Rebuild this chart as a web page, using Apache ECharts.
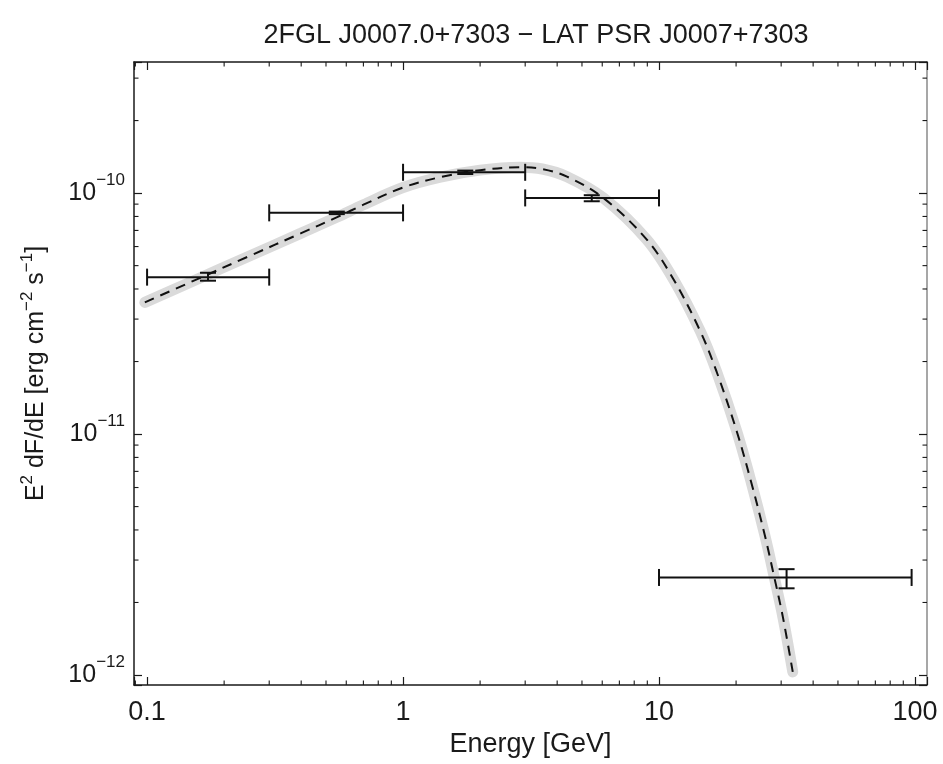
<!DOCTYPE html>
<html>
<head>
<meta charset="utf-8">
<script src="https://cdn.jsdelivr.net/npm/echarts@6/dist/echarts.min.js"></script>
<style>
html,body{margin:0;padding:0;background:#fff;}
#chart{width:943px;height:764px;}
</style>
</head>
<body>
<div id="chart"></div>
<script>
// ---- data ----
const chartTitle = '2FGL J0007.0+7303 \u2212 LAT PSR J0007+7303';

// spectral points (GeV, erg cm^-2 s^-1)
const energyCenter = [0.173, 0.551, 1.75, 5.46, 31.5];
const energyLow    = [0.1, 0.3, 1, 3, 10];
const energyHigh   = [0.3, 1, 3, 10, 97];
const flux         = [4.48e-11, 8.28e-11, 1.22e-10, 9.55e-11, 2.54e-12];
const fluxLow      = [4.33e-11, 8.18e-11, 1.20e-10, 9.25e-11, 2.29e-12];
const fluxHigh     = [4.67e-11, 8.38e-11, 1.24e-10, 9.80e-11, 2.75e-12];

// fitted model curve
const curveEnergy = [0.098, 0.15, 0.25, 0.4, 0.55, 0.7, 1.0, 1.4, 2.0, 2.86, 3.5, 4.37, 6.06, 8.96, 11.4, 14.5, 16.8, 20.1, 23.0, 25.9, 28.1, 30.5, 33.3];
const curveFlux   = [3.52e-11, 4.30e-11, 5.47e-11, 6.82e-11, 7.93e-11, 8.95e-11, 1.055e-10, 1.165e-10, 1.245e-10, 1.28e-10, 1.259e-10, 1.17e-10, 9.55e-11, 6.41e-11, 4.38e-11, 2.67e-11, 1.81e-11, 1.03e-11, 6.22e-12, 3.80e-12, 2.59e-12, 1.73e-12, 1.03e-12];

// axes
const xMin = 0.0889, xMax = 111.4;
const yMin = 9.09e-13, yMax = 3.5e-10;
const xTickLabels = ['0.1', '1', '10', '100'];   // decades 10^-1 .. 10^2
const xMinorTicks = [0.09, 0.2, 0.3, 0.4, 0.5, 0.6, 0.7, 0.8, 0.9, 2, 3, 4, 5, 6, 7, 8, 9, 20, 30, 40, 50, 60, 70, 80, 90];
const yMinorTicks = [2e-12, 3e-12, 4e-12, 5e-12, 6e-12, 7e-12, 8e-12, 9e-12, 2e-11, 3e-11, 4e-11, 5e-11, 6e-11, 7e-11, 8e-11, 9e-11, 2e-10, 3e-10];

// ---- chart ----
const FONT = 'Liberation Sans, Arial, Helvetica, sans-serif';
const INK = '#1a1a1a';

function isDecade(v) {
  const lg = Math.log10(v);
  return Math.abs(lg - Math.round(lg)) < 1e-6;
}
function xLabel(v) {
  if (!isDecade(v)) return '';
  const i = Math.round(Math.log10(v)) + 1;
  return xTickLabels[i] !== undefined ? xTickLabels[i] : '';
}
function yLabel(v) {
  if (!isDecade(v)) return '';
  const e = Math.round(Math.log10(v));
  return '{b|10}{s|\u2212' + Math.abs(e) + '}';
}

const curveData = curveEnergy.map((e, i) => [e, curveFlux[i]]);
const pointData = energyCenter.map((e, i) => [e, flux[i], energyLow[i], energyHigh[i], fluxLow[i], fluxHigh[i]]);

const commonX = {
  type: 'log', logBase: 10, min: xMin, max: xMax,
  splitLine: { show: false },
  axisLine: { show: true, lineStyle: { color: INK, width: 1.5 } },
  axisTick: { show: true, inside: true, length: 8, lineStyle: { color: INK, width: 1.2 } },
};
const commonY = {
  type: 'log', logBase: 10, min: yMin, max: yMax,
  splitLine: { show: false },
  axisLine: { show: true, lineStyle: { color: INK, width: 1.5 } },
  axisTick: { show: true, inside: true, length: 8, lineStyle: { color: INK, width: 1.2 } },
};

const chart = echarts.init(document.getElementById('chart'), null, { renderer: 'canvas' });
chart.setOption({
  backgroundColor: '#fff',
  animation: false,
  title: {
    text: chartTitle,
    left: 531, top: 17, textAlign: 'center',
    textStyle: { fontFamily: FONT, fontSize: 27, fontWeight: 'normal', color: INK }
  },
  grid: { left: 134, right: 16, top: 62, bottom: 79, containLabel: false },
  xAxis: [
    Object.assign({}, commonX, {
      position: 'bottom',
      name: 'Energy [GeV]', nameLocation: 'middle', nameGap: 45,
      nameTextStyle: { fontFamily: FONT, fontSize: 27, color: INK },
      axisLabel: { show: true, margin: 14, formatter: xLabel, showMinLabel: true, showMaxLabel: true,
        fontFamily: FONT, fontSize: 27, color: INK }
    }),
    Object.assign({}, commonX, {
      position: 'top',
      axisLabel: { show: false }
    })
  ],
  yAxis: [
    Object.assign({}, commonY, {
      position: 'left',
      name: '{n|E}{s|2}{n| dF/dE [erg cm}{s|\u22122}{n| s}{s|\u22121}{n|]}',
      nameLocation: 'middle', nameGap: 80, nameRotate: 90,
      nameTextStyle: {
        rich: {
          n: { fontFamily: FONT, fontSize: 25, color: INK },
          s: { fontFamily: FONT, fontSize: 17, color: INK, padding: [0, 0, 18, 0] }
        }
      },
      axisLabel: {
        show: true, margin: 9, formatter: yLabel, showMinLabel: true, showMaxLabel: true,
        rich: {
          b: { fontFamily: FONT, fontSize: 25, color: INK },
          s: { fontFamily: FONT, fontSize: 17, color: INK, padding: [0, 0, 26, 0] }
        }
      }
    }),
    Object.assign({}, commonY, {
      position: 'right',
      axisLine: { show: true, lineStyle: { color: '#8a8a8a', width: 1.5 } },
      axisLabel: { show: false }
    })
  ],
  series: [
    {
      name: 'band', type: 'line', data: curveData, smooth: 0.35,
      showSymbol: false, symbol: 'none', z: 1, silent: true,
      lineStyle: { color: '#dadada', width: 11, cap: 'round' }
    },
    {
      name: 'model', type: 'line', data: curveData, smooth: 0.35,
      showSymbol: false, symbol: 'none', z: 2, silent: true,
      lineStyle: { color: '#111', width: 2, type: [10, 7] }
    },
    {
      name: 'points', type: 'custom', z: 3, silent: true,
      data: pointData,
      encode: { x: 0, y: 1 },
      renderItem: function (params, api) {
        const xc = api.value(0), yc = api.value(1);
        const pL = api.coord([api.value(2), yc]);
        const pH = api.coord([api.value(3), yc]);
        const pYL = api.coord([xc, api.value(4)]);
        const pYH = api.coord([xc, api.value(5)]);
        const st = { stroke: '#111', lineWidth: 2 };
        const capH = 8.5, capW = 8;
        return {
          type: 'group',
          children: [
            { type: 'line', shape: { x1: pL[0], y1: pL[1], x2: pH[0], y2: pH[1] }, style: st },
            { type: 'line', shape: { x1: pL[0], y1: pL[1] - capH, x2: pL[0], y2: pL[1] + capH }, style: st },
            { type: 'line', shape: { x1: pH[0], y1: pH[1] - capH, x2: pH[0], y2: pH[1] + capH }, style: st },
            { type: 'line', shape: { x1: pYL[0], y1: pYL[1], x2: pYH[0], y2: pYH[1] }, style: st },
            { type: 'line', shape: { x1: pYL[0] - capW, y1: pYL[1], x2: pYL[0] + capW, y2: pYL[1] }, style: st },
            { type: 'line', shape: { x1: pYH[0] - capW, y1: pYH[1], x2: pYH[0] + capW, y2: pYH[1] }, style: st }
          ]
        };
      }
    },
    {
      name: 'xminor', type: 'custom', z: 4, silent: true, clip: false,
      data: xMinorTicks.map(v => [v, 1e-11]),
      renderItem: function (params, api) {
        const cs = params.coordSys;
        const px = api.coord([api.value(0), 1e-11])[0];
        const st = { stroke: INK, lineWidth: 1.1 };
        return {
          type: 'group',
          children: [
            { type: 'line', shape: { x1: px, y1: cs.y + cs.height, x2: px, y2: cs.y + cs.height - 4.5 }, style: st },
            { type: 'line', shape: { x1: px, y1: cs.y, x2: px, y2: cs.y + 4.5 }, style: st }
          ]
        };
      }
    },
    {
      name: 'yminor', type: 'custom', z: 4, silent: true, clip: false,
      data: yMinorTicks.map(v => [1, v]),
      renderItem: function (params, api) {
        const cs = params.coordSys;
        const py = api.coord([1, api.value(1)])[1];
        const st = { stroke: INK, lineWidth: 1.1 };
        return {
          type: 'group',
          children: [
            { type: 'line', shape: { x1: cs.x, y1: py, x2: cs.x + 4.5, y2: py }, style: st },
            { type: 'line', shape: { x1: cs.x + cs.width, y1: py, x2: cs.x + cs.width - 4.5, y2: py }, style: st }
          ]
        };
      }
    }
  ]
});
</script>
</body>
</html>
